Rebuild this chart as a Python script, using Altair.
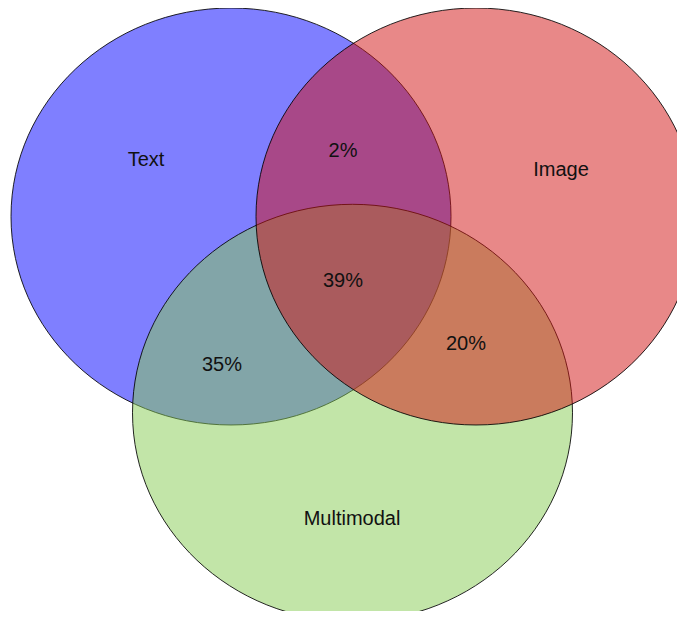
import altair as alt
import pandas as pd

# ---- data ----
sets = ["Text", "Image", "Multimodal"]
set_colors = ["#0000ff", "#d11111", "#85cb51"]
region_names = ["Text ∩ Image", "Text ∩ Image ∩ Multimodal", "Text ∩ Multimodal", "Image ∩ Multimodal"]
region_values = [2, 39, 35, 20]

# ---- layout (page pixels) ----
W, H = 669, 603
set_cx = [231, 476, 352.5]
set_cy = [216.5, 216.5, 412.8]
set_draw_order = [0, 2, 1]
set_label_x = [146, 561, 352]
set_label_y = [166, 176, 524.5]
region_label_x = [343, 343, 222, 466]
region_label_y = [157, 287, 371, 349.5]

RX, RY = 220.0, 208.5
r = RY / RX
c = 0.5523
ellipse_path = (
    f"M 1 0 C 1 {c*r:.4f} {c:.4f} {r:.4f} 0 {r:.4f} "
    f"C {-c:.4f} {r:.4f} -1 {c*r:.4f} -1 0 "
    f"C -1 {-c*r:.4f} {-c:.4f} {-r:.4f} 0 {-r:.4f} "
    f"C {c:.4f} {-r:.4f} 1 {-c*r:.4f} 1 0 Z"
)
size = (2 * RX) ** 2

ell_df = pd.DataFrame({"set": sets, "cx": set_cx, "cy": set_cy, "order": set_draw_order})
lab_df = pd.DataFrame({
    "label": sets + [f"{v}%" for v in region_values],
    "lx": set_label_x + region_label_x,
    "ly": set_label_y + region_label_y,
})

xs = alt.Scale(domain=[8, 8 + W], range=[0, W])
ys = alt.Scale(domain=[8, 8 + H], range=[0, H])

ellipses = alt.Chart(ell_df).mark_point(
    shape=ellipse_path, size=size, filled=True, fillOpacity=0.5,
    stroke="black", strokeWidth=1, strokeOpacity=0.85, opacity=1, clip=True
).encode(
    x=alt.X("cx:Q", scale=xs, axis=None),
    y=alt.Y("cy:Q", scale=ys, axis=None),
    fill=alt.Fill("set:N", scale=alt.Scale(domain=sets, range=set_colors), legend=None),
    order=alt.Order("order:Q"),
)

labels = alt.Chart(lab_df).mark_text(
    font="Liberation Sans", fontSize=20, color="#111111", align="center", baseline="alphabetic"
).encode(
    x=alt.X("lx:Q", scale=xs, axis=None),
    y=alt.Y("ly:Q", scale=ys, axis=None),
    text="label:N",
)

chart = alt.layer(ellipses, labels).properties(
    width=W, height=H, padding=0, autosize=alt.AutoSizeParams(type="none")
).configure_view(stroke=None)

chart.save("out.html", embed_options={"renderer": "svg", "actions": False})
